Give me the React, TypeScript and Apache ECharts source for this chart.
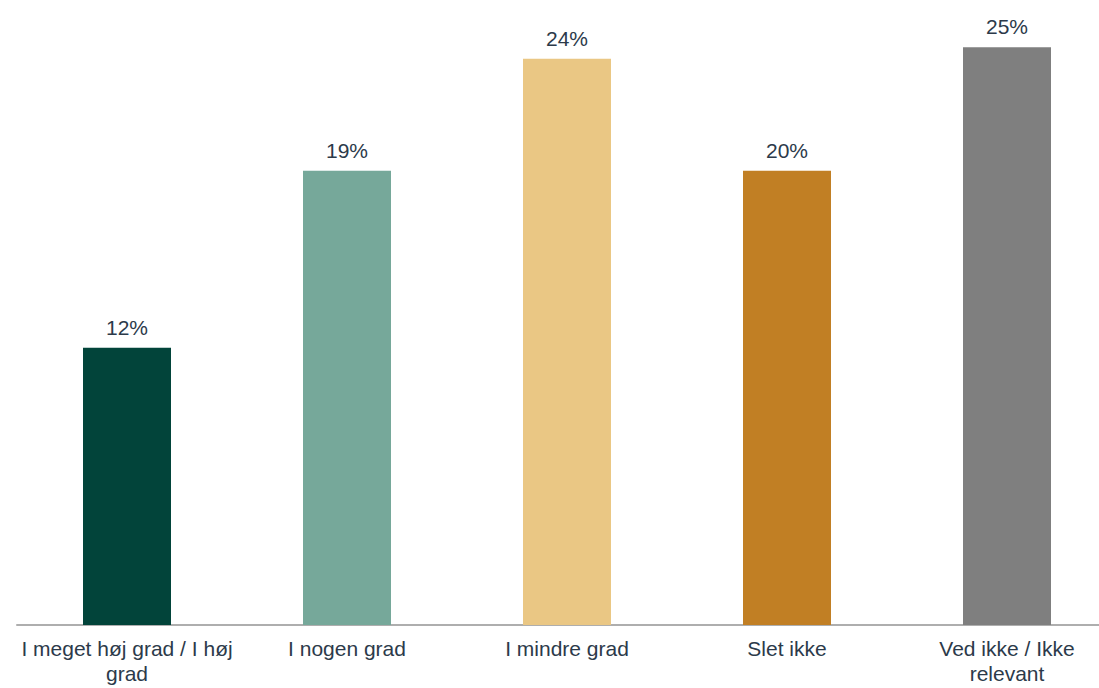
import React, { useEffect, useRef } from "react";
import * as echarts from "echarts";

const categories = [
  "I meget høj grad / I høj\ngrad",
  "I nogen grad",
  "I mindre grad",
  "Slet ikke",
  "Ved ikke / Ikke\nrelevant",
];
const values = [11.9, 19.5, 24.3, 19.5, 24.8];
const valueLabels = ["12%", "19%", "24%", "20%", "25%"];
const colors = ["#02443a", "#76a89a", "#eac784", "#c17f24", "#7f7f7f"];

export default function App() {
  const ref = useRef<HTMLDivElement>(null);
  useEffect(() => {
    document.body.style.margin = "0";
    const chart = echarts.init(ref.current!, null, { renderer: "svg" });
    chart.setOption({
      animation: false,
      grid: {
        left: 17,
        right: -18,
        top: 19.2,
        bottom: 63,
        containLabel: false,
        outerBoundsMode: "none",
      },
      xAxis: {
        type: "category",
        data: categories,
        axisLine: { lineStyle: { color: "#aeaeae", width: 2 } },
        axisTick: { show: false },
        axisLabel: {
          color: "#2c3a4a",
          fontFamily: "Liberation Sans, Arial, sans-serif",
          fontSize: 21,
          lineHeight: 25,
          margin: 11,
          interval: 0,
        },
      },
      yAxis: {
        type: "value",
        min: 0,
        max: 26,
        show: false,
        splitLine: { show: false },
      },
      series: [
        {
          type: "bar",
          barWidth: 88,
          data: values.map((v, i) => ({ value: v, itemStyle: { color: colors[i] } })),
          label: {
            show: true,
            position: "top",
            distance: 10,
            color: "#2c3a4a",
            fontFamily: "Liberation Sans, Arial, sans-serif",
            fontSize: 21,
            formatter: (p: any) => valueLabels[p.dataIndex],
          },
        },
      ],
    });
    return () => chart.dispose();
  }, []);
  return <div ref={ref} style={{ width: 1099, height: 688 }} />;
}
